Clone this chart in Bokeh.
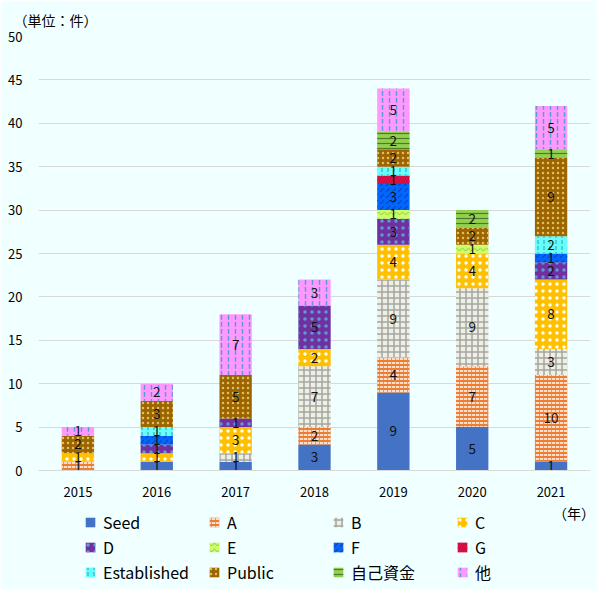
from bokeh.plotting import figure
from bokeh.models import ColumnDataSource, FactorRange, Range1d, Legend, LegendItem
from bokeh.core.properties import value
from bokeh.embed import file_html
from bokeh.resources import INLINE

years = ["2015", "2016", "2017", "2018", "2019", "2020", "2021"]
series = ["Seed", "A", "B", "C", "D", "E", "F", "G", "Established", "Public", "自己資金", "他"]
seed        = [0, 1, 1, 3, 9, 5, 1]
ser_a       = [1, 0, 0, 2, 4, 7, 10]
ser_b       = [0, 0, 1, 7, 9, 9, 3]
ser_c       = [1, 1, 3, 2, 4, 4, 8]
ser_d       = [0, 1, 1, 5, 3, 0, 2]
ser_e       = [0, 0, 0, 0, 1, 1, 0]
ser_f       = [0, 1, 0, 0, 3, 0, 1]
ser_g       = [0, 0, 0, 0, 1, 0, 0]
established = [0, 1, 0, 0, 1, 0, 2]
public      = [2, 3, 5, 0, 2, 2, 9]
self_fund   = [0, 0, 0, 0, 2, 2, 1]
other       = [1, 2, 7, 3, 5, 0, 5]
y_ticks = [0, 5, 10, 15, 20, 25, 30, 35, 40, 45, 50]
unit_text = "（単位：件）"
year_text = "（年）"

data = [seed, ser_a, ser_b, ser_c, ser_d, ser_e, ser_f, ser_g, established, public, self_fund, other]

styles = [
    dict(fill_color="#4472C4"),
    dict(fill_color="#ED7D31", hatch_pattern="horizontal_dash", hatch_color="#FFFFFF", hatch_scale=4, hatch_weight=1.5),
    dict(fill_color="#EEF0E2", hatch_pattern="cross", hatch_color="#A5A5A5", hatch_scale=6, hatch_weight=1.5),
    dict(fill_color="#FFC000", hatch_pattern="dot", hatch_color="#FFFFFF", hatch_scale=7, hatch_weight=1),
    dict(fill_color="#7030A0", hatch_pattern="dot", hatch_color="#5B9BD5", hatch_scale=7, hatch_weight=1),
    dict(fill_color="#CCFF66", hatch_pattern="horizontal_wave", hatch_color="#8FC050", hatch_scale=6, hatch_weight=1),
    dict(fill_color="#0066FF", hatch_pattern="right_diagonal_dash", hatch_color="#1F3F9F", hatch_scale=6, hatch_weight=1.2),
    dict(fill_color="#E8104A", hatch_pattern="right_diagonal_line", hatch_color="#B0103A", hatch_scale=5, hatch_weight=1),
    dict(fill_color="#66FFFF", hatch_pattern="vertical_dash", hatch_color="#3399AA", hatch_scale=6, hatch_weight=1),
    dict(fill_color="#9C6500", hatch_pattern="dot", hatch_color="#E0C060", hatch_scale=5, hatch_weight=1),
    dict(fill_color="#92D050", hatch_pattern="horizontal_line", hatch_color="#4F7A28", hatch_scale=5, hatch_weight=1.2),
    dict(fill_color="#FF99FF", hatch_pattern="vertical_dash", hatch_color="#5B9BD5", hatch_scale=7, hatch_weight=1.5),
]

FONT = "Noto Sans CJK JP"
BG = "#F0FFFF"
PX = 434 / 50.0
Y0 = -(589 - 470) / PX

p = figure(frame_width=552, frame_height=553, x_range=FactorRange(*years, range_padding=0),
           y_range=Range1d(Y0, 50), output_backend="svg", toolbar_location=None,
           background_fill_color=BG, border_fill_color=BG, outline_line_color=None,
           min_border_left=38, min_border_right=7, min_border_top=36, min_border_bottom=0,
           title=unit_text)

p.title.text_font = FONT
p.title.text_font_size = "14px"
p.title.text_font_style = "normal"
p.title.text_color = "#000000"
p.title.align = "left"
p.title.offset = -25
p.title.standoff = 13

bottoms = [0] * len(years)
items = []
lx, ly, lt = [], [], []
for name, vals, st in zip(series, data, styles):
    tops = [b + v for b, v in zip(bottoms, vals)]
    src = ColumnDataSource(dict(x=years, bottom=bottoms, top=tops))
    r = p.vbar(x="x", bottom="bottom", top="top", width=0.41, source=src,
               line_color=None, **st)
    items.append(LegendItem(label=name, renderers=[r]))
    for yr, b, v in zip(years, bottoms, vals):
        if v > 0:
            lx.append(yr)
            ly.append(b + v / 2)
            lt.append(str(v))
    bottoms = tops

p.text(x=lx, y=ly, text=lt, text_align="center", text_baseline="middle",
       text_font=value(FONT), text_font_size="13.5px", text_color="#111111")

p.yaxis.ticker = y_ticks
p.yaxis.axis_line_color = None
p.yaxis.major_tick_line_color = None
p.yaxis.minor_tick_line_color = None
p.yaxis.major_label_text_font = FONT
p.yaxis.major_label_text_font_size = "13px"
p.yaxis.major_label_text_color = "#000000"
p.yaxis.major_label_standoff = 10

p.xaxis.fixed_location = 0
p.xaxis.axis_line_color = "#D9D9D9"
p.xaxis.major_tick_line_color = None
p.xaxis.minor_tick_line_color = None
p.xaxis.major_label_text_font = FONT
p.xaxis.major_label_text_font_size = "13px"
p.xaxis.major_label_text_color = "#000000"
p.xaxis.major_label_standoff = 10

p.xgrid.grid_line_color = None
p.ygrid.grid_line_color = "#D9D9D9"
p.ygrid.grid_line_width = 1

legend = Legend(items=items, nrows=3, orientation="horizontal",
                background_fill_alpha=0, border_line_color=None,
                label_text_font=FONT, label_text_font_size="16px", label_text_color="#000000",
                glyph_width=12, glyph_height=12, label_standoff=7, label_width=104,
                spacing=1, padding=0, margin=0, location=(46, 5), label_height=18)
p.add_layout(legend, "center")

p.text(x=[years[-1]], y=[-42 / PX], text=[year_text], x_offset=2, text_align="left",
       text_baseline="middle", text_font=value(FONT), text_font_size="14px", text_color="#000000")

open("out.html", "w").write(file_html(p, INLINE))
